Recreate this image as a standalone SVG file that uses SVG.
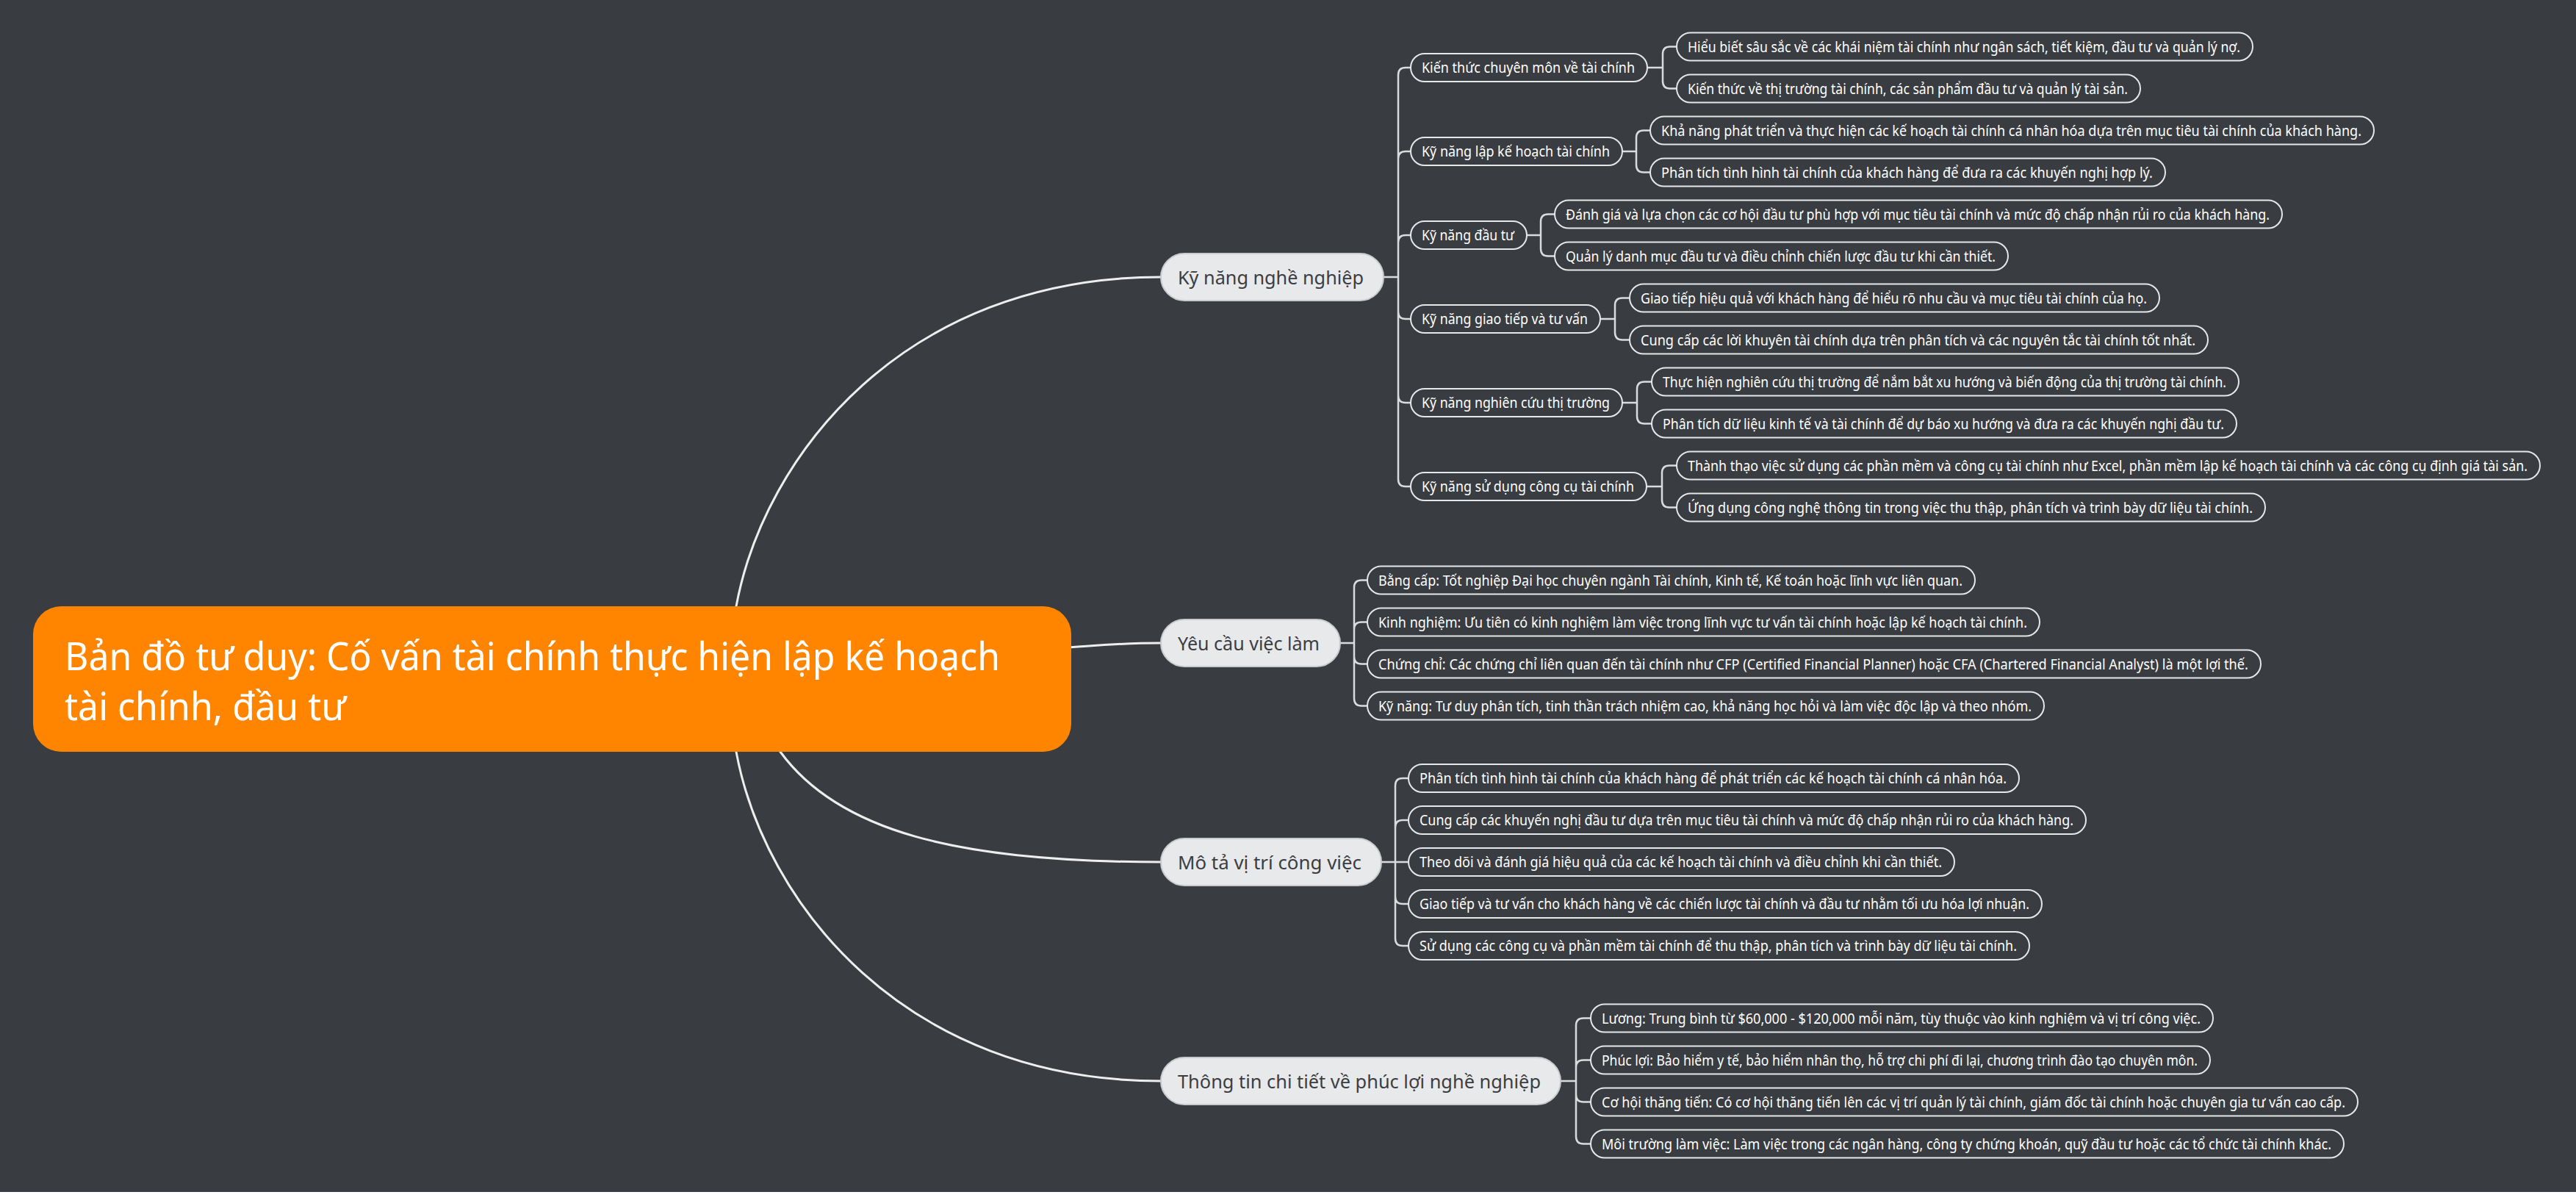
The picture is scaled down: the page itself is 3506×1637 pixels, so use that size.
<svg xmlns="http://www.w3.org/2000/svg" width="3506" height="1637" viewBox="0 0 3506 1637">
<style>
text{font-family:"Noto Sans","Open Sans","DejaVu Sans",sans-serif}
.root rect{fill:#FF8400}
.root text{fill:#FFFFFF;font-size:52px}
.l1 rect{fill:#E8E9EB;stroke:#C9CBCE;stroke-width:2}
.l1 text{fill:#3B3D42;font-size:26px}
.l2 rect{fill:#393C41;stroke:#E6E7E8;stroke-width:2}
.l2 text{fill:#FFFFFF;font-size:19px}
.main{fill:none;stroke:#EEEEEE;stroke-width:3;stroke-linecap:round}
.sub{fill:none;stroke:#DADBDD;stroke-width:2.5}
</style>
<rect x="0" y="0" width="3506" height="1637" fill="#FFFFFF"/>
<rect x="0" y="0" width="3506" height="1622" fill="#393C41"/>

<g id="connectors">
<path class="main" d="M997 852 L1002 825 C1040 620 1230 377 1580 377"/>
<path class="main" d="M1440 882 C1500 878 1520 875 1580 875"/>
<path class="main" d="M1038 990 L1062 1023 C1140 1130 1300 1173 1580 1173"/>
<path class="main" d="M997 996 L1002 1023 C1040 1228 1230 1471 1580 1471"/>
<path class="sub" d="M1883 377 H1903 M1903 377 V102 Q1903 92 1913 92 H1920 M1903 377 V216 Q1903 206 1913 206 H1920 M1903 377 V330 Q1903 320 1913 320 H1920 M1903 377 V424 Q1903 434 1913 434 H1920 M1903 377 V538 Q1903 548 1913 548 H1920 M1903 377 V652 Q1903 662 1913 662 H1920"/>
<path class="sub" d="M2242 92 H2263 M2263 92 V73.5 Q2263 63.5 2273 63.5 H2282 M2263 92 V110.5 Q2263 120.5 2273 120.5 H2282"/>
<path class="sub" d="M2208 206 H2227 M2227 206 V187.5 Q2227 177.5 2237 177.5 H2246 M2227 206 V224.5 Q2227 234.5 2237 234.5 H2246"/>
<path class="sub" d="M2078 320 H2097 M2097 320 V301.5 Q2097 291.5 2107 291.5 H2116 M2097 320 V338.5 Q2097 348.5 2107 348.5 H2116"/>
<path class="sub" d="M2178 434 H2198 M2198 434 V415.5 Q2198 405.5 2208 405.5 H2218 M2198 434 V452.5 Q2198 462.5 2208 462.5 H2218"/>
<path class="sub" d="M2208 548 H2228 M2228 548 V529.5 Q2228 519.5 2238 519.5 H2248 M2228 548 V566.5 Q2228 576.5 2238 576.5 H2248"/>
<path class="sub" d="M2241 662 H2262 M2262 662 V643.5 Q2262 633.5 2272 633.5 H2282 M2262 662 V680.5 Q2262 690.5 2272 690.5 H2282"/>
<path class="sub" d="M1824 875 H1843 M1843 875 V799.5 Q1843 789.5 1853 789.5 H1861 M1843 875 V856.5 Q1843 846.5 1853 846.5 H1861 M1843 875 V893.5 Q1843 903.5 1853 903.5 H1861 M1843 875 V950.5 Q1843 960.5 1853 960.5 H1861"/>
<path class="sub" d="M1880 1173 H1917 M1899 1173 V1069 Q1899 1059 1909 1059 H1917 M1899 1173 V1126 Q1899 1116 1909 1116 H1917 M1899 1173 V1220 Q1899 1230 1909 1230 H1917 M1899 1173 V1277 Q1899 1287 1909 1287 H1917"/>
<path class="sub" d="M2124 1471 H2145 M2145 1471 V1395.5 Q2145 1385.5 2155 1385.5 H2165 M2145 1471 V1452.5 Q2145 1442.5 2155 1442.5 H2165 M2145 1471 V1489.5 Q2145 1499.5 2155 1499.5 H2165 M2145 1471 V1546.5 Q2145 1556.5 2155 1556.5 H2165"/>
</g>

<g id="root" class="root">
<rect x="45" y="825" width="1413" height="198" rx="38"/>
<text x="88" y="912" textLength="1273" lengthAdjust="spacingAndGlyphs">Bản đồ tư duy: Cố vấn tài chính thực hiện lập kế hoạch</text>
<text x="88" y="980" textLength="383" lengthAdjust="spacingAndGlyphs">tài chính, đầu tư</text>
</g>

<g id="n-ky-nang-nghe-nghiep" class="l1"><rect x="1580" y="345" width="303" height="64" rx="32"/><text x="1603" y="387" textLength="253" lengthAdjust="spacingAndGlyphs">Kỹ năng nghề nghiệp</text></g>
<g id="n-yeu-cau" class="l1"><rect x="1580" y="843" width="244" height="64" rx="32"/><text x="1603" y="885" textLength="193" lengthAdjust="spacingAndGlyphs">Yêu cầu việc làm</text></g>
<g id="n-mo-ta" class="l1"><rect x="1580" y="1141" width="300" height="64" rx="32"/><text x="1603" y="1183" textLength="250" lengthAdjust="spacingAndGlyphs">Mô tả vị trí công việc</text></g>
<g id="n-thong-tin" class="l1"><rect x="1580" y="1439" width="544" height="64" rx="32"/><text x="1603" y="1481" textLength="494" lengthAdjust="spacingAndGlyphs">Thông tin chi tiết về phúc lợi nghề nghiệp</text></g>

<g id="k1" class="l2"><rect x="1920" y="73" width="322" height="38" rx="19"/><text x="1935" y="99" textLength="290" lengthAdjust="spacingAndGlyphs">Kiến thức chuyên môn về tài chính</text></g>
<g id="k2" class="l2"><rect x="1920" y="187" width="288" height="38" rx="19"/><text x="1935" y="213" textLength="256" lengthAdjust="spacingAndGlyphs">Kỹ năng lập kế hoạch tài chính</text></g>
<g id="k3" class="l2"><rect x="1920" y="301" width="158" height="38" rx="19"/><text x="1935" y="327" textLength="126" lengthAdjust="spacingAndGlyphs">Kỹ năng đầu tư</text></g>
<g id="k4" class="l2"><rect x="1920" y="415" width="258" height="38" rx="19"/><text x="1935" y="441" textLength="226" lengthAdjust="spacingAndGlyphs">Kỹ năng giao tiếp và tư vấn</text></g>
<g id="k5" class="l2"><rect x="1920" y="529" width="288" height="38" rx="19"/><text x="1935" y="555" textLength="256" lengthAdjust="spacingAndGlyphs">Kỹ năng nghiên cứu thị trường</text></g>
<g id="k6" class="l2"><rect x="1920" y="643" width="321" height="38" rx="19"/><text x="1935" y="669" textLength="289" lengthAdjust="spacingAndGlyphs">Kỹ năng sử dụng công cụ tài chính</text></g>

<g id="k1a" class="l2"><rect x="2282" y="44.5" width="784" height="38" rx="19"/><text x="2297" y="70.5" textLength="752" lengthAdjust="spacingAndGlyphs">Hiểu biết sâu sắc về các khái niệm tài chính như ngân sách, tiết kiệm, đầu tư và quản lý nợ.</text></g>
<g id="k1b" class="l2"><rect x="2282" y="101.5" width="631" height="38" rx="19"/><text x="2297" y="127.5" textLength="599" lengthAdjust="spacingAndGlyphs">Kiến thức về thị trường tài chính, các sản phẩm đầu tư và quản lý tài sản.</text></g>
<g id="k2a" class="l2"><rect x="2246" y="158.5" width="985" height="38" rx="19"/><text x="2261" y="184.5" textLength="953" lengthAdjust="spacingAndGlyphs">Khả năng phát triển và thực hiện các kế hoạch tài chính cá nhân hóa dựa trên mục tiêu tài chính của khách hàng.</text></g>
<g id="k2b" class="l2"><rect x="2246" y="215.5" width="701" height="38" rx="19"/><text x="2261" y="241.5" textLength="669" lengthAdjust="spacingAndGlyphs">Phân tích tình hình tài chính của khách hàng để đưa ra các khuyến nghị hợp lý.</text></g>
<g id="k3a" class="l2"><rect x="2116" y="272.5" width="990" height="38" rx="19"/><text x="2131" y="298.5" textLength="958" lengthAdjust="spacingAndGlyphs">Đánh giá và lựa chọn các cơ hội đầu tư phù hợp với mục tiêu tài chính và mức độ chấp nhận rủi ro của khách hàng.</text></g>
<g id="k3b" class="l2"><rect x="2116" y="329.5" width="617" height="38" rx="19"/><text x="2131" y="355.5" textLength="585" lengthAdjust="spacingAndGlyphs">Quản lý danh mục đầu tư và điều chỉnh chiến lược đầu tư khi cần thiết.</text></g>
<g id="k4a" class="l2"><rect x="2218" y="386.5" width="721" height="38" rx="19"/><text x="2233" y="412.5" textLength="689" lengthAdjust="spacingAndGlyphs">Giao tiếp hiệu quả với khách hàng để hiểu rõ nhu cầu và mục tiêu tài chính của họ.</text></g>
<g id="k4b" class="l2"><rect x="2218" y="443.5" width="787" height="38" rx="19"/><text x="2233" y="469.5" textLength="755" lengthAdjust="spacingAndGlyphs">Cung cấp các lời khuyên tài chính dựa trên phân tích và các nguyên tắc tài chính tốt nhất.</text></g>
<g id="k5a" class="l2"><rect x="2248" y="500.5" width="799" height="38" rx="19"/><text x="2263" y="526.5" textLength="767" lengthAdjust="spacingAndGlyphs">Thực hiện nghiên cứu thị trường để nắm bắt xu hướng và biến động của thị trường tài chính.</text></g>
<g id="k5b" class="l2"><rect x="2248" y="557.5" width="796" height="38" rx="19"/><text x="2263" y="583.5" textLength="764" lengthAdjust="spacingAndGlyphs">Phân tích dữ liệu kinh tế và tài chính để dự báo xu hướng và đưa ra các khuyến nghị đầu tư.</text></g>
<g id="k6a" class="l2"><rect x="2282" y="614.5" width="1175" height="38" rx="19"/><text x="2297" y="640.5" textLength="1143" lengthAdjust="spacingAndGlyphs">Thành thạo việc sử dụng các phần mềm và công cụ tài chính như Excel, phần mềm lập kế hoạch tài chính và các công cụ định giá tài sản.</text></g>
<g id="k6b" class="l2"><rect x="2282" y="671.5" width="801" height="38" rx="19"/><text x="2297" y="697.5" textLength="769" lengthAdjust="spacingAndGlyphs">Ứng dụng công nghệ thông tin trong việc thu thập, phân tích và trình bày dữ liệu tài chính.</text></g>

<g id="y1" class="l2"><rect x="1861" y="770.5" width="827" height="38" rx="19"/><text x="1876" y="796.5" textLength="795" lengthAdjust="spacingAndGlyphs">Bằng cấp: Tốt nghiệp Đại học chuyên ngành Tài chính, Kinh tế, Kế toán hoặc lĩnh vực liên quan.</text></g>
<g id="y2" class="l2"><rect x="1861" y="827.5" width="915" height="38" rx="19"/><text x="1876" y="853.5" textLength="883" lengthAdjust="spacingAndGlyphs">Kinh nghiệm: Ưu tiên có kinh nghiệm làm việc trong lĩnh vực tư vấn tài chính hoặc lập kế hoạch tài chính.</text></g>
<g id="y3" class="l2"><rect x="1861" y="884.5" width="1216" height="38" rx="19"/><text x="1876" y="910.5" textLength="1184" lengthAdjust="spacingAndGlyphs">Chứng chỉ: Các chứng chỉ liên quan đến tài chính như CFP (Certified Financial Planner) hoặc CFA (Chartered Financial Analyst) là một lợi thế.</text></g>
<g id="y4" class="l2"><rect x="1861" y="941.5" width="921" height="38" rx="19"/><text x="1876" y="967.5" textLength="889" lengthAdjust="spacingAndGlyphs">Kỹ năng: Tư duy phân tích, tinh thần trách nhiệm cao, khả năng học hỏi và làm việc độc lập và theo nhóm.</text></g>

<g id="m1" class="l2"><rect x="1917" y="1040" width="831" height="38" rx="19"/><text x="1932" y="1066" textLength="799" lengthAdjust="spacingAndGlyphs">Phân tích tình hình tài chính của khách hàng để phát triển các kế hoạch tài chính cá nhân hóa.</text></g>
<g id="m2" class="l2"><rect x="1917" y="1097" width="922" height="38" rx="19"/><text x="1932" y="1123" textLength="890" lengthAdjust="spacingAndGlyphs">Cung cấp các khuyến nghị đầu tư dựa trên mục tiêu tài chính và mức độ chấp nhận rủi ro của khách hàng.</text></g>
<g id="m3" class="l2"><rect x="1917" y="1154" width="743" height="38" rx="19"/><text x="1932" y="1180" textLength="711" lengthAdjust="spacingAndGlyphs">Theo dõi và đánh giá hiệu quả của các kế hoạch tài chính và điều chỉnh khi cần thiết.</text></g>
<g id="m4" class="l2"><rect x="1917" y="1211" width="862" height="38" rx="19"/><text x="1932" y="1237" textLength="830" lengthAdjust="spacingAndGlyphs">Giao tiếp và tư vấn cho khách hàng về các chiến lược tài chính và đầu tư nhằm tối ưu hóa lợi nhuận.</text></g>
<g id="m5" class="l2"><rect x="1917" y="1268" width="845" height="38" rx="19"/><text x="1932" y="1294" textLength="813" lengthAdjust="spacingAndGlyphs">Sử dụng các công cụ và phần mềm tài chính để thu thập, phân tích và trình bày dữ liệu tài chính.</text></g>

<g id="t1" class="l2"><rect x="2165" y="1366.5" width="847" height="38" rx="19"/><text x="2180" y="1392.5" textLength="815" lengthAdjust="spacingAndGlyphs">Lương: Trung bình từ $60,000 - $120,000 mỗi năm, tùy thuộc vào kinh nghiệm và vị trí công việc.</text></g>
<g id="t2" class="l2"><rect x="2165" y="1423.5" width="843" height="38" rx="19"/><text x="2180" y="1449.5" textLength="811" lengthAdjust="spacingAndGlyphs">Phúc lợi: Bảo hiểm y tế, bảo hiểm nhân thọ, hỗ trợ chi phí đi lại, chương trình đào tạo chuyên môn.</text></g>
<g id="t3" class="l2"><rect x="2165" y="1480.5" width="1044" height="38" rx="19"/><text x="2180" y="1506.5" textLength="1012" lengthAdjust="spacingAndGlyphs">Cơ hội thăng tiến: Có cơ hội thăng tiến lên các vị trí quản lý tài chính, giám đốc tài chính hoặc chuyên gia tư vấn cao cấp.</text></g>
<g id="t4" class="l2"><rect x="2165" y="1537.5" width="1025" height="38" rx="19"/><text x="2180" y="1563.5" textLength="993" lengthAdjust="spacingAndGlyphs">Môi trường làm việc: Làm việc trong các ngân hàng, công ty chứng khoán, quỹ đầu tư hoặc các tổ chức tài chính khác.</text></g>
</svg>
